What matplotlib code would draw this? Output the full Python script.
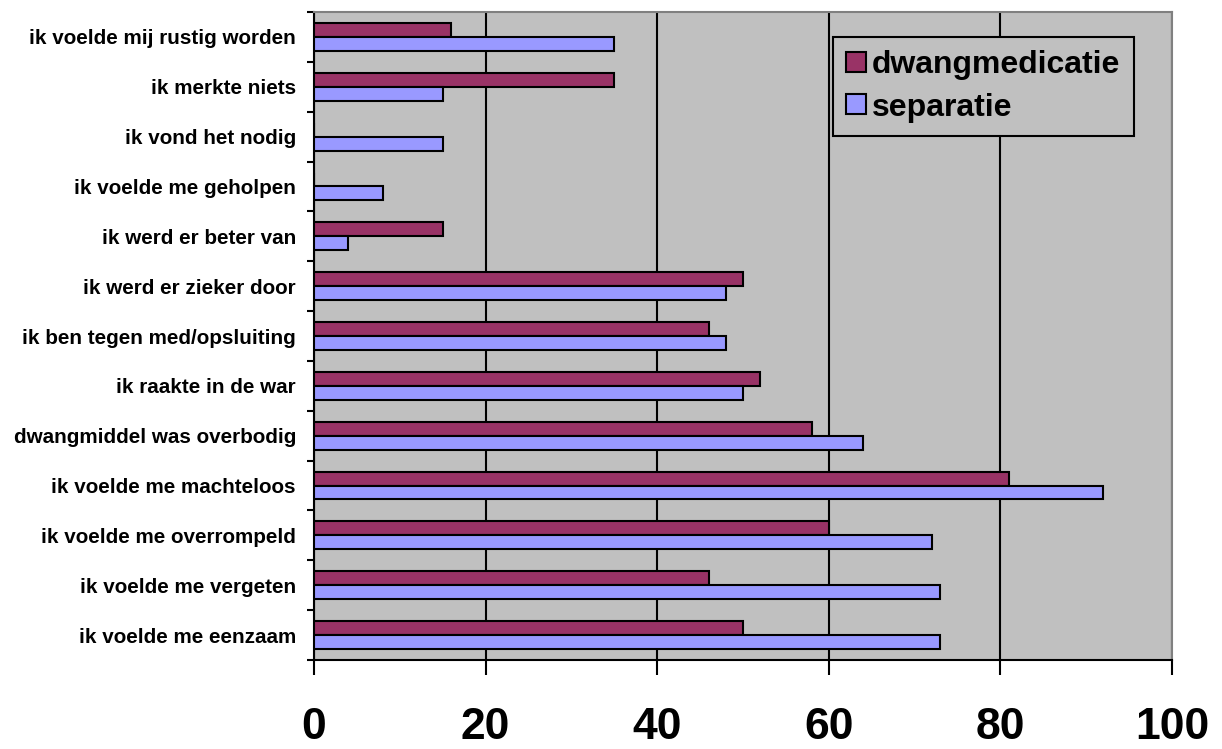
import matplotlib
matplotlib.use("Agg")
import matplotlib.pyplot as plt
import numpy as np

categories = [
    "ik voelde mij rustig worden",
    "ik merkte niets",
    "ik vond het nodig",
    "ik voelde me geholpen",
    "ik werd er beter van",
    "ik werd er zieker door",
    "ik ben tegen med/opsluiting",
    "ik raakte in de war",
    "dwangmiddel was overbodig",
    "ik voelde me machteloos",
    "ik voelde me overrompeld",
    "ik voelde me vergeten",
    "ik voelde me eenzaam",
]
dwangmedicatie = [16, 35, 0, 0, 15, 50, 46, 52, 58, 81, 60, 46, 50]
separatie = [35, 15, 15, 8, 4, 48, 48, 50, 64, 92, 72, 73, 73]
xticks = [0, 20, 40, 60, 80, 100]

plt.rcParams['font.family'] = ['Liberation Sans', 'DejaVu Sans']

fig = plt.figure(figsize=(12.22, 7.49), dpi=100)
W, H = 1222, 749
left, right, top, bottom = 314, 1172, 12, 660
ax = fig.add_axes([left / W, 1 - bottom / H, (right - left) / W, (bottom - top) / H])
ax.set_facecolor('#C0C0C0')

n = len(categories)
y = np.arange(n)
h = 0.28
ax.barh(y - h / 2, dwangmedicatie, height=h, color='#993366', edgecolor='black', linewidth=1.5,
        label='dwangmedicatie', zorder=3)
ax.barh(y + h / 2, separatie, height=h, color='#9999FF', edgecolor='black', linewidth=1.5,
        label='separatie', zorder=3)

ax.set_xlim(0, 100)
ax.set_ylim(n - 0.5, -0.5)
ax.set_xticks(xticks)
ax.set_xticklabels([str(t) for t in xticks], fontsize=32, fontweight='bold')
ax.xaxis.grid(True, color='black', linewidth=1.5, zorder=1)
ax.set_axisbelow(True)
ax.tick_params(axis='x', direction='out', length=11, width=1.5, pad=23)

ax.set_yticks(y)
ax.set_yticklabels(categories, fontsize=14.9, fontweight='bold')
ax.tick_params(axis='y', which='major', length=0, pad=13)
ax.set_yticks(np.arange(-0.5, n, 1), minor=True)
ax.tick_params(axis='y', which='minor', direction='out', length=5, width=1.5)

for s in ['top', 'right']:
    ax.spines[s].set_color('#808080')
    ax.spines[s].set_linewidth(1.5)
for s in ['left', 'bottom']:
    ax.spines[s].set_color('black')
    ax.spines[s].set_linewidth(1.5)

leg = ax.legend(loc='upper left', bbox_to_anchor=((833 - left) / (right - left), 1 - (37 - top) / (bottom - top)),
                prop={'size': 23, 'weight': 'bold'}, frameon=True, fancybox=False,
                facecolor='#C0C0C0', edgecolor='black', framealpha=1,
                handlelength=0.6, handleheight=0.6, handletextpad=0.2, borderpad=0.42,
                labelspacing=0.38, borderaxespad=0)
leg.get_frame().set_linewidth(1.5)
for p in leg.get_patches():
    p.set_linewidth(1.5)

fig.savefig('out.png', dpi=100, facecolor='white')
